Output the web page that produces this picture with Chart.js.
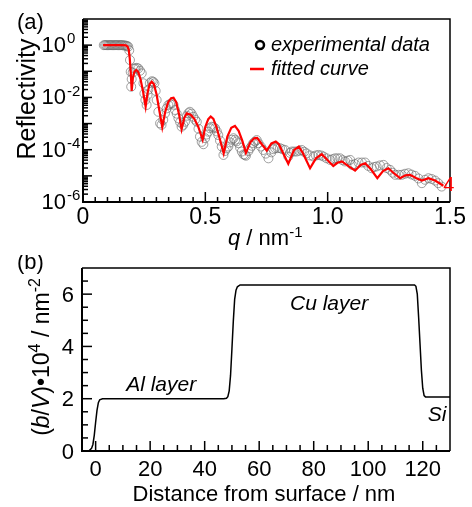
<!DOCTYPE html>
<html>
<head>
<meta charset="utf-8">
<script src="https://cdn.jsdelivr.net/npm/chart.js@4.4.1/dist/chart.umd.min.js"></script>
<style>
	body { margin: 0; background: #fff; }
	#wrap { position: relative; width: 472px; height: 507px; }
	canvas { position: absolute; left: 0; }
</style>
</head>
<body>
<div id="wrap">
	<canvas id="chartRefl" width="472" height="255" style="top:0"></canvas>
	<canvas id="chartSld" width="472" height="252" style="top:255px"></canvas>
</div>
<script>
// (a) experimental reflectivity, log10 values
const expQ = [
	0.085, 0.090, 0.095, 0.100, 0.105, 0.110, 0.115, 0.120, 0.125, 0.130,
	0.135, 0.140, 0.145, 0.150, 0.155, 0.160, 0.165, 0.170, 0.175, 0.180,
	0.185, 0.189, 0.192, 0.195, 0.197, 0.199, 0.203, 0.207, 0.213, 0.219,
	0.226, 0.233, 0.240, 0.247, 0.251, 0.255, 0.260, 0.264, 0.267, 0.273,
	0.281, 0.287, 0.292, 0.297, 0.301, 0.308, 0.315, 0.321, 0.328, 0.335,
	0.342, 0.349, 0.356, 0.363, 0.370, 0.376, 0.383, 0.390, 0.397, 0.403,
	0.410, 0.417, 0.425, 0.431, 0.437, 0.444, 0.451, 0.458, 0.465, 0.472,
	0.478, 0.485, 0.492, 0.499, 0.505, 0.512, 0.519, 0.526, 0.533, 0.540,
	0.547, 0.553, 0.560, 0.567, 0.574, 0.580, 0.587, 0.594, 0.601, 0.608,
	0.615, 0.622, 0.628, 0.635, 0.642, 0.649, 0.656, 0.662, 0.666, 0.676,
	0.683, 0.690, 0.696, 0.703, 0.710, 0.717, 0.727, 0.737, 0.747, 0.758,
	0.770, 0.778, 0.785, 0.795, 0.805, 0.815, 0.826, 0.839, 0.846, 0.853,
	0.863, 0.873, 0.884, 0.894, 0.904, 0.914, 0.928, 0.942, 0.952, 0.962,
	0.973, 0.983, 0.996, 1.010, 1.020, 1.030, 1.040, 1.051, 1.061, 1.071,
	1.082, 1.092, 1.099, 1.112, 1.126, 1.140, 1.153, 1.166, 1.180, 1.190,
	1.200, 1.214, 1.228, 1.241, 1.255, 1.266, 1.276, 1.290, 1.303, 1.316,
	1.330, 1.343, 1.357, 1.371, 1.385, 1.398, 1.412, 1.425, 1.439, 1.452,
	1.466
];
const expLogR = [
	0, 0, 0, 0, 0, 0, 0, 0, 0, 0,
	0, 0, 0, 0, 0, 0, -0.01, -0.01, -0.02, -0.03,
	-0.06, -0.2, -0.57, -1.02, -1.59, -1.3, -1.05, -0.9, -0.89, -0.87,
	-0.89, -0.98, -1.08, -1.46, -1.85, -2.1, -2.29, -1.9, -1.7, -1.45,
	-1.38, -1.4, -1.46, -1.75, -2.1, -2.55, -2.99, -3.05, -2.86, -2.61,
	-2.42, -2.29, -2.25, -2.23, -2.28, -2.48, -2.62, -2.8, -2.95, -3.12,
	-3.05, -2.93, -2.7, -2.6, -2.55, -2.62, -2.74, -2.85, -2.93, -3.2,
	-3.5, -3.7, -3.79, -3.56, -3.42, -3.31, -3.18, -3.12, -3.14, -3.18,
	-3.3, -3.44, -3.65, -3.88, -4.2, -4.05, -3.95, -3.88, -3.72, -3.62,
	-3.56, -3.62, -3.68, -3.75, -3.92, -4.07, -4.18, -4.2, -4.23, -4.05,
	-3.94, -3.85, -3.75, -3.69, -3.63, -3.75, -3.88, -4.01, -4.15, -4.33,
	-4.1, -3.98, -3.94, -3.94, -3.94, -3.98, -4.01, -4.26, -4.12, -4.07,
	-4.07, -4.07, -4.04, -4.01, -4.08, -4.14, -4.22, -4.26, -4.22, -4.2,
	-4.22, -4.26, -4.33, -4.39, -4.36, -4.33, -4.33, -4.33, -4.4, -4.45,
	-4.42, -4.39, -4.58, -4.55, -4.49, -4.49, -4.49, -4.62, -4.71, -4.66,
	-4.64, -4.6, -4.58, -4.7, -4.77, -4.88, -4.96, -4.96, -4.96, -4.92,
	-4.9, -4.95, -5.0, -5.1, -5.28, -5.15, -5.09, -5.12, -5.18, -5.28,
	-5.41
];

// (a) fitted curve, log10 values
const fitQ = [
	0.082, 0.100, 0.120, 0.140, 0.160, 0.175, 0.182, 0.187, 0.191, 0.195,
	0.199, 0.204, 0.210, 0.218, 0.226, 0.235, 0.246, 0.256, 0.264, 0.272,
	0.281, 0.290, 0.301, 0.312, 0.324, 0.336, 0.348, 0.360, 0.370, 0.381,
	0.392, 0.403, 0.414, 0.424, 0.440, 0.455, 0.471, 0.489, 0.500, 0.512,
	0.522, 0.533, 0.546, 0.560, 0.575, 0.590, 0.606, 0.621, 0.636, 0.651,
	0.666, 0.685, 0.700, 0.712, 0.730, 0.751, 0.770, 0.788, 0.800, 0.839,
	0.862, 0.882, 0.897, 0.928, 0.952, 0.976, 1.000, 1.023, 1.040, 1.058,
	1.085, 1.112, 1.135, 1.153, 1.176, 1.203, 1.226, 1.248, 1.271, 1.296,
	1.318, 1.337, 1.361, 1.385, 1.412, 1.439, 1.473
];
const fitLogR = [
	0, 0, 0, 0, 0, -0.01, -0.05, -0.18, -0.5, -1.0,
	-1.75, -1.25, -1.02, -0.95, -1.03, -1.3, -1.8, -2.35, -1.82, -1.5,
	-1.4, -1.5, -1.9, -2.5, -3.14, -2.55, -2.18, -2.03, -2.01, -2.18,
	-2.62, -3.22, -2.78, -2.61, -2.66, -2.82, -3.12, -3.62, -3.12, -2.83,
	-2.73, -2.82, -3.15, -3.62, -4.14, -3.5, -3.16, -3.09, -3.28, -3.65,
	-4.12, -3.7, -3.56, -3.55, -3.78, -4.03, -3.76, -3.69, -3.78, -4.54,
	-4.02, -3.88, -4.1, -4.71, -4.33, -4.17, -4.4, -4.62, -4.5, -4.45,
	-4.63, -4.8, -4.58, -4.52, -4.74, -5.09, -4.82, -4.71, -4.9, -5.09,
	-4.98, -4.96, -5.08, -5.18, -5.09, -5.18, -5.38
];

const reflTickExp = [0, -2, -4, -6];
const qTicks = [0, 0.5, 1.0, 1.5];
const qTickText = ["0", "0.5", "1.0", "1.5"];

// (b) scattering length density profile
const depth = [
	-5, -2.5, -1.5, -1, -0.5, 0, 0.5, 1, 1.5, 2.5,
	47, 48, 48.5, 49, 49.5, 50, 50.5, 51, 51.5, 52,
	53, 117, 117.5, 118, 118.5, 119, 119.5, 120, 120.5, 121,
	130
];
const sld = [
	0, 0, 0.1, 0.25, 0.6, 1.1, 1.55, 1.85, 1.96, 2.0,
	2.0, 2.02, 2.08, 2.3, 2.9, 3.9, 4.95, 5.8, 6.15, 6.28,
	6.35, 6.35, 6.3, 6.0, 5.1, 4.1, 3.1, 2.4, 2.12, 2.07,
	2.07
];
const depthTicks = [0, 20, 40, 60, 80, 100, 120];
const sldTicks = [0, 2, 4, 6];

const FONT = '"Liberation Sans", Arial, sans-serif';

// draw a list of text pieces one after another (for italics and superscripts)
function runsWidth(ctx, runs) {
	let w = 0;
	for (const r of runs) {
		ctx.font = r.font;
		w += ctx.measureText(r.t).width;
	}
	return w;
}
function drawRuns(ctx, runs, x, y) {
	ctx.textAlign = "left";
	ctx.textBaseline = "alphabetic";
	for (const r of runs) {
		ctx.font = r.font;
		ctx.fillText(r.t, x, y + (r.dy || 0));
		x += ctx.measureText(r.t).width;
	}
}

function frame(ctx, a) {
	ctx.lineWidth = 1.5;
	ctx.beginPath();
	ctx.moveTo(a.left, a.top);
	ctx.lineTo(a.right, a.top);
	ctx.lineTo(a.right, a.bottom);
	ctx.stroke();
	ctx.lineWidth = 2;
	ctx.beginPath();
	ctx.moveTo(a.left, a.top);
	ctx.lineTo(a.left, a.bottom);
	ctx.lineTo(a.right, a.bottom);
	ctx.stroke();
}
function hTick(ctx, a, py, len) {
	ctx.beginPath();
	ctx.moveTo(a.left, py);
	ctx.lineTo(a.left + len, py);
	ctx.stroke();
}
function vTick(ctx, a, px, len) {
	ctx.beginPath();
	ctx.moveTo(px, a.bottom);
	ctx.lineTo(px, a.bottom - len);
	ctx.stroke();
}

// axes, inward ticks, labels and legend for (a)
const reflDecor = {
	id: "reflDecor",
	afterDraw(chart) {
		const { ctx, chartArea: a, scales: { x, y } } = chart;
		ctx.save();
		ctx.strokeStyle = "#000";
		ctx.fillStyle = "#000";
		frame(ctx, a);

		ctx.lineWidth = 1.5;
		for (let e = -6; e <= 0; e++) {
			for (let m = 1; m <= 9; m++) {
				hTick(ctx, a, y.getPixelForValue(m * 10 ** e), m === 1 ? 9 : 5);
			}
		}
		for (let i = 1; i < 30; i++) {
			vTick(ctx, a, x.getPixelForValue(i * 0.05), i % 10 === 0 ? 10 : 5);
		}

		// y tick labels 10^n
		for (const e of reflTickExp) {
			const py = y.getPixelForValue(10 ** e);
			ctx.font = "22px " + FONT;
			ctx.textAlign = "right";
			ctx.textBaseline = "middle";
			ctx.fillText("10", 66, py + 1);
			ctx.font = "15px " + FONT;
			ctx.textAlign = "left";
			ctx.fillText(String(e), 67, py - 6);
		}
		// x tick labels
		ctx.font = "23px " + FONT;
		ctx.textAlign = "center";
		ctx.textBaseline = "middle";
		qTicks.forEach((v, i) => ctx.fillText(qTickText[i], x.getPixelForValue(v), 218));

		// axis titles
		drawRuns(ctx, [
			{ t: "q", font: "italic 22px " + FONT },
			{ t: " / nm", font: "22px " + FONT },
			{ t: "-1", font: "15px " + FONT, dy: -8 }
		], 228, 245);
		ctx.save();
		ctx.translate(35, 99);
		ctx.rotate(-Math.PI / 2);
		ctx.font = "25px " + FONT;
		ctx.textAlign = "center";
		ctx.textBaseline = "alphabetic";
		ctx.fillText("Reflectivity", 0, 0);
		ctx.restore();

		ctx.font = "22px " + FONT;
		ctx.textAlign = "left";
		ctx.textBaseline = "middle";
		ctx.fillText("(a)", 17, 23);

		// legend
		ctx.lineWidth = 2.5;
		ctx.beginPath();
		ctx.arc(260, 45, 4, 0, Math.PI * 2);
		ctx.stroke();
		ctx.strokeStyle = "#ff0000";
		ctx.beginPath();
		ctx.moveTo(250, 69);
		ctx.lineTo(264, 69);
		ctx.stroke();
		ctx.font = "italic 20px " + FONT;
		ctx.fillText("experimental data", 271, 45);
		ctx.fillText("fitted curve", 271, 69);

		// stray "4" at the end of the fitted curve
		ctx.fillStyle = "#ff0000";
		ctx.font = "20px " + FONT;
		ctx.fillText("4", x.getPixelForValue(1.472), y.getPixelForValue(10 ** -5.35));
		ctx.restore();
	}
};

// axes, ticks, labels for (b)
const sldDecor = {
	id: "sldDecor",
	afterDraw(chart) {
		const { ctx, chartArea: a, scales: { x, y } } = chart;
		ctx.save();
		ctx.strokeStyle = "#000";
		ctx.fillStyle = "#000";
		frame(ctx, a);

		ctx.lineWidth = 1.5;
		for (let v = 0.5; v < 7; v += 0.5) {
			hTick(ctx, a, y.getPixelForValue(v), v % 2 === 0 ? 10 : 6);
		}
		for (let v = 0; v < 130; v += 5) {
			vTick(ctx, a, x.getPixelForValue(v), v % 20 === 0 ? 10 : 6);
		}

		ctx.font = "22px " + FONT;
		ctx.textBaseline = "middle";
		ctx.textAlign = "right";
		sldTicks.forEach(v => ctx.fillText(String(v), 74, y.getPixelForValue(v) + 1.5));
		ctx.textAlign = "center";
		depthTicks.forEach(v => ctx.fillText(String(v), x.getPixelForValue(v), 215));

		ctx.fillText("Distance from surface / nm", 264, 240);
		ctx.textAlign = "left";
		ctx.fillText("(b)", 17, 8);

		// rotated y title
		const f = "23px " + FONT, fi = "italic 23px " + FONT, fs = "16px " + FONT;
		const runs = [
			{ t: "(", font: f },
			{ t: "b", font: fi },
			{ t: "/", font: f },
			{ t: "V", font: fi },
			{ t: ")\u202210", font: f },
			{ t: "4", font: fs, dy: -9 },
			{ t: " / nm", font: f },
			{ t: "-2", font: fs, dy: -9 }
		];
		ctx.save();
		ctx.translate(49, 102);
		ctx.rotate(-Math.PI / 2);
		drawRuns(ctx, runs, -runsWidth(ctx, runs) / 2, 0);
		ctx.restore();

		// layer names
		ctx.font = "italic 21px " + FONT;
		ctx.textAlign = "left";
		ctx.textBaseline = "middle";
		ctx.fillText("Al layer", x.getPixelForValue(11.2), y.getPixelForValue(2.5));
		ctx.fillText("Cu layer", x.getPixelForValue(71.3), y.getPixelForValue(5.6));
		ctx.fillText("Si", x.getPixelForValue(121.8), y.getPixelForValue(1.37));
		ctx.restore();
	}
};

new Chart(document.getElementById("chartRefl"), {
	type: "scatter",
	data: {
		datasets: [
			{
				label: "fitted curve",
				data: fitQ.map((q, i) => ({ x: q, y: 10 ** fitLogR[i] })),
				showLine: true,
				borderColor: "#ff0000",
				borderWidth: 2.2,
				pointRadius: 0,
				tension: 0,
				order: 0
			},
			{
				label: "experimental data",
				data: expQ.map((q, i) => ({ x: q, y: 10 ** expLogR[i] })),
				pointStyle: "circle",
				pointRadius: 4.5,
				borderWidth: 1,
				borderColor: "rgba(110, 110, 110, 0.65)",
				backgroundColor: "rgba(0, 0, 0, 0)",
				order: 1
			}
		]
	},
	options: {
		responsive: false,
		animation: false,
		devicePixelRatio: 1,
		layout: { padding: { left: 83, right: 22, top: 19, bottom: 53 } },
		plugins: { legend: { display: false }, tooltip: { enabled: false } },
		scales: {
			x: { type: "linear", min: 0, max: 1.5, display: false },
			y: { type: "logarithmic", min: 1e-6, max: 10, display: false }
		}
	},
	plugins: [reflDecor]
});

new Chart(document.getElementById("chartSld"), {
	type: "scatter",
	data: {
		datasets: [
			{
				data: depth.map((d, i) => ({ x: d, y: sld[i] })),
				showLine: true,
				borderColor: "#000",
				borderWidth: 1.5,
				pointRadius: 0,
				tension: 0
			}
		]
	},
	options: {
		responsive: false,
		animation: false,
		devicePixelRatio: 1,
		layout: { padding: { left: 82, right: 22, top: 13, bottom: 56 } },
		plugins: { legend: { display: false }, tooltip: { enabled: false } },
		scales: {
			x: { type: "linear", min: -5, max: 130, display: false },
			y: { type: "linear", min: 0, max: 7, display: false }
		}
	},
	plugins: [sldDecor]
});
</script>
</body>
</html>
